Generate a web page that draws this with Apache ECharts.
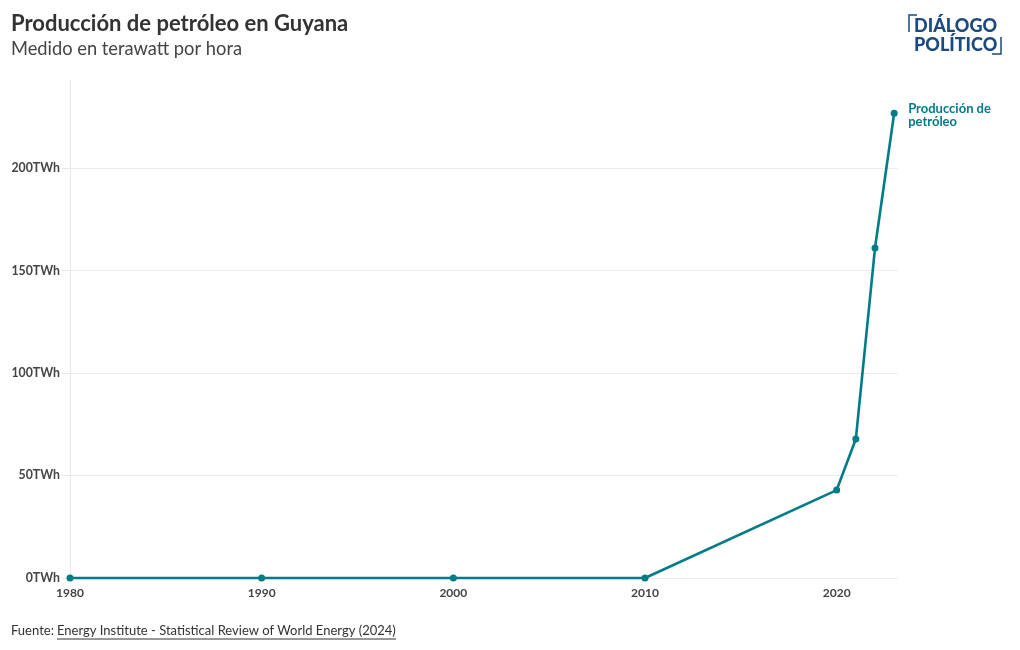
<!DOCTYPE html>
<html><head><meta charset="utf-8">
<script src="https://cdn.jsdelivr.net/npm/echarts@6/dist/echarts.min.js"></script>
<style>html,body{margin:0;padding:0;background:#fff}#c{width:1020px;height:650px}</style>
</head><body><div id="c"></div>
<script>
const years = [1980, 1990, 2000, 2010, 2020, 2021, 2022, 2023];
const production = [0, 0, 0, 0, 42.9, 67.8, 161, 226.8];
const yTicks = [0, 50, 100, 150, 200];
const xTicks = [1980, 1990, 2000, 2010, 2020];
const seriesName = 'Producción de\npetróleo';

const FONT = 'Lato, "Noto Sans", sans-serif';
const TEAL = '#007c89';
const chart = echarts.init(document.getElementById('c'));
chart.setOption({
  animation: false,
  grid: { left: 70, right: 122, top: 80, bottom: 72 },
  title: [
    { text: 'Producción de petróleo en Guyana', left: 6, top: 8,
      textStyle: { fontFamily: FONT, fontSize: 22, fontWeight: 'bold', color: '#333' } },
    { text: 'Medido en terawatt por hora', left: 6, top: 35,
      textStyle: { fontFamily: FONT, fontSize: 18.3, fontWeight: 'normal', color: '#444' } }
  ],
  xAxis: {
    type: 'value', min: 1980, max: 2023.2, interval: 10,
    axisLine: { show: false },
    axisTick: { show: false },
    splitLine: { show: false },
    axisLabel: {
      fontFamily: FONT, fontSize: 12, fontWeight: 'bold', color: '#444', margin: 9,
      customValues: xTicks,
      formatter: v => String(v)
    }
  },
  yAxis: {
    type: 'value', min: 0, max: 243, interval: 50,
    axisLine: { show: true, lineStyle: { color: '#e8e8e8' } },
    axisTick: { show: true, length: 8, customValues: yTicks, lineStyle: { color: '#e8e8e8' } },
    splitLine: { show: false },
    axisLabel: {
      fontFamily: FONT, fontSize: 12.3, fontWeight: 'bold', color: '#444', margin: 10,
      customValues: yTicks,
      formatter: v => v + 'TWh'
    }
  },
  series: [{
    type: 'line', name: seriesName,
    data: years.map((y, i) => [y, production[i]]),
    symbol: 'circle', symbolSize: 7,
    itemStyle: { color: TEAL },
    lineStyle: { color: TEAL, width: 2.6 },
    clip: false, z: 3,
    endLabel: {
      show: true, formatter: seriesName, distance: 14, offset: [0, 2],
      fontFamily: FONT, fontSize: 13, fontWeight: 'bold', color: TEAL, lineHeight: 13
    },
    markLine: {
      silent: true, symbol: 'none', label: { show: false }, z: 1,
      lineStyle: { color: '#ececec', type: 'solid', width: 1 },
      data: yTicks.map(v => ({ yAxis: v }))
    }
  }],
  graphic: [
    { type: 'text', left: 11, top: 624, style: { text: 'Fuente: ', fontFamily: FONT, fontSize: 13, fill: '#333' } },
    { type: 'text', left: 57, top: 624, style: { text: 'Energy Institute - Statistical Review of World Energy (2024)', fontFamily: FONT, fontSize: 13, fill: '#333' } },
    { type: 'line', shape: { x1: 57, y1: 639, x2: 396, y2: 639 }, style: { stroke: '#333', lineWidth: 1 } },
    // logo
    { type: 'text', left: 914, top: 17, style: { text: 'DIÁLOGO', fontFamily: FONT, fontSize: 18, fontWeight: 900, fill: '#1c4a7e' } },
    { type: 'text', left: 914, top: 36, style: { text: 'POLÍTICO', fontFamily: FONT, fontSize: 18, fontWeight: 900, fill: '#1c4a7e' } },
    { type: 'polyline', shape: { points: [[917, 15], [909, 15], [909, 32]] }, style: { stroke: '#1c4a7e', lineWidth: 1.5, fill: 'none' } },
    { type: 'polyline', shape: { points: [[1001, 37], [1001, 54], [992, 54]] }, style: { stroke: '#1c4a7e', lineWidth: 1.5, fill: 'none' } }
  ]
});
</script></body></html>
